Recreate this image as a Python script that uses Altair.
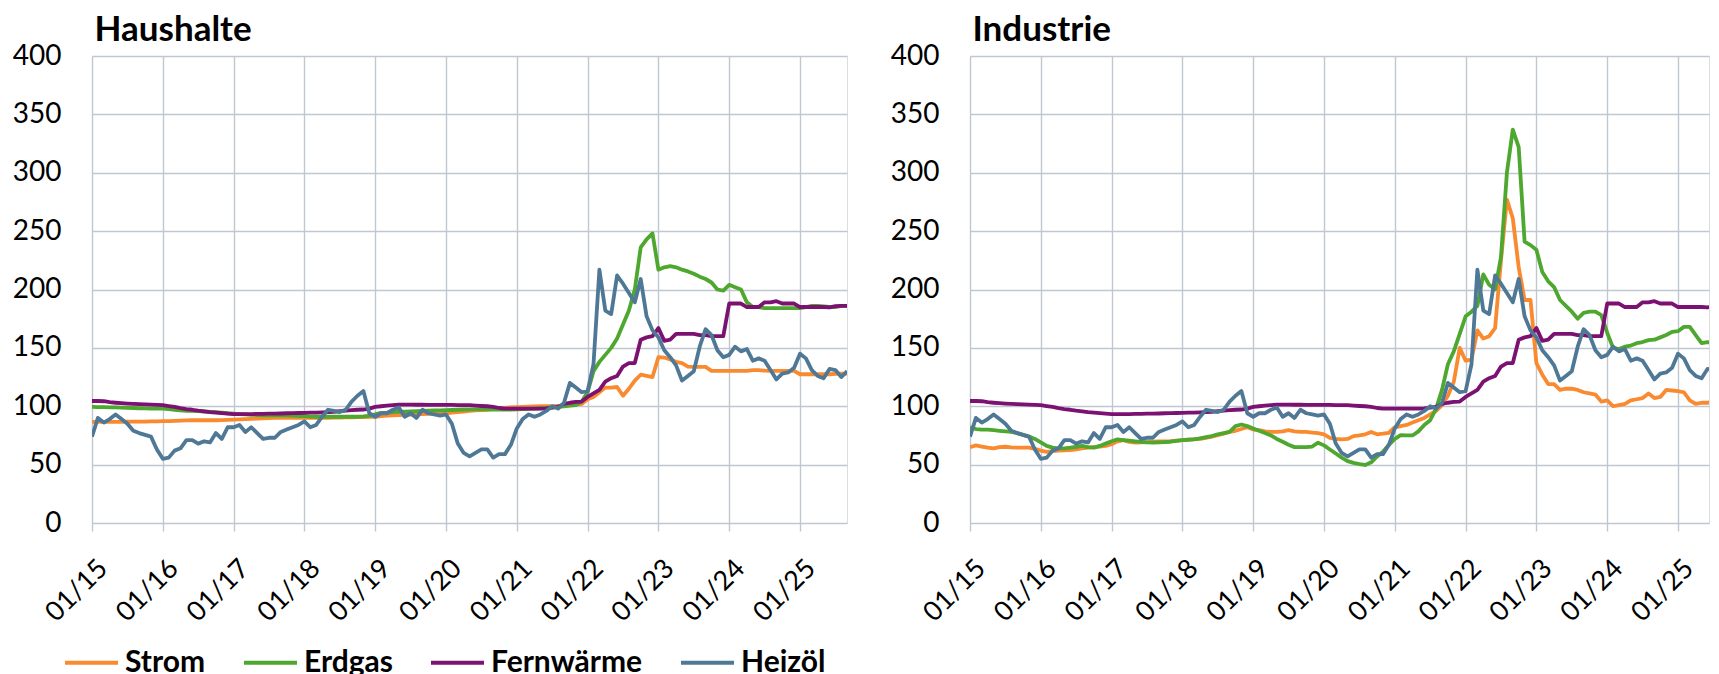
import altair as alt
import pandas as pd

SERIES = ["Strom", "Erdgas", "Fernwärme", "Heizöl"]
COLORS = ["#F98A2F", "#4EA72E", "#7B1272", "#4E7895"]
TICK_LABELS = ["01/15", "01/16", "01/17", "01/18", "01/19", "01/20",
               "01/21", "01/22", "01/23", "01/24", "01/25"]
PANEL_TITLES = ["Haushalte", "Industrie"]

# monthly index values, Jan 2015 .. Sep 2025
HH_STROM = [
    86.6, 86.6, 86.6, 86.6, 86.7, 86.7, 86.8, 86.8, 86.9, 86.9, 87.0, 87.0,
    87.2, 87.3, 87.5, 87.7, 87.9, 88.0, 88.0, 88.0, 88.0, 88.0, 88.2, 88.4,
    88.6, 88.8, 89.0, 89.2, 89.4, 89.6, 89.8, 90.0, 90.0, 90.0, 90.0, 90.0,
    90.0, 90.0, 90.0, 90.0, 90.0, 90.2, 90.3, 90.4, 90.5, 90.6, 90.8, 91.0,
    91.0, 91.5, 92.0, 92.2, 92.4, 92.6, 92.8, 93.0, 93.2, 93.4, 93.6, 93.8,
    94.0, 94.5, 95.0, 95.5, 96.0, 96.5, 96.8, 97.0, 97.5, 98.0, 98.5, 99.0,
    99.3, 99.5, 99.7, 99.9, 100.0, 100.0, 100.0, 100.2, 100.5, 101.0, 101.5, 102.0,
    106, 108, 112, 116, 116, 116.5, 109, 115, 122, 127, 126, 125,
    142, 141.7, 140, 138, 137, 134, 133.7, 133.7, 133.7, 130.3, 130.3, 130.3,
    130.3, 130.3, 130.3, 130.3, 130.9, 130.9, 130.5, 130.3, 130.3, 130.3, 130.3, 130.3,
    127.4, 127.4, 127.4, 127.4, 127.4, 127.4, 127.8, 128, 128,
]
HH_ERDGAS = [
    99.4, 99.3, 99.2, 99.0, 99.0, 98.8, 98.6, 98.5, 98.3, 98.2, 98.0, 98.0,
    98.0, 97.5, 97.0, 96.5, 96.0, 96.0, 95.8, 95.5, 95.2, 95.0, 94.5, 94.0,
    93.7, 93.3, 93.0, 92.7, 92.5, 92.3, 92.3, 92.3, 92.3, 92.2, 92.0, 91.8,
    91.5, 91.2, 91.0, 91.0, 91.0, 91.0, 91.0, 91.0, 91.0, 91.0, 91.3, 91.8,
    93.0, 94.3, 94.5, 95.0, 95.2, 95.3, 95.5, 95.7, 96.0, 96.2, 96.4, 96.5,
    96.6, 96.8, 97.0, 97.2, 97.4, 97.4, 97.4, 97.3, 97.2, 97.2, 97.2, 97.2,
    97.3, 97.5, 97.8, 98.0, 98.3, 98.6, 99.0, 99.4, 100.0, 100.5, 101.0, 104.0,
    112, 130, 138, 144, 150, 158, 170, 182, 200, 236, 243, 248,
    217, 219, 220, 219, 217, 215.5, 213.5, 211, 209, 206, 200, 199,
    204, 202, 200, 189, 185, 185, 184, 184, 184, 184, 184, 184,
    184, 185, 186, 186, 185.5, 185, 185, 186, 186,
]
FERNWAERME = [
    104.5, 104.5, 104.3, 103.5, 103.0, 102.6, 102.3, 102.0, 101.8, 101.6, 101.4, 101.2,
    100.9, 100.2, 99.4, 98.4, 97.6, 97.0, 96.2, 95.6, 95.0, 94.6, 94.1, 93.6,
    93.2, 93.2, 93.2, 93.3, 93.4, 93.5, 93.6, 93.7, 93.8, 94.0, 94.1, 94.2,
    94.3, 94.5, 94.6, 94.8, 95.0, 95.2, 95.8, 96.2, 96.6, 97.0, 97.2, 98.0,
    99.4, 100.0, 100.5, 101.0, 101.4, 101.4, 101.4, 101.3, 101.3, 101.2, 101.2, 101.2,
    101.2, 101.2, 101.0, 101.0, 100.9, 100.5, 100.2, 100.0, 99.4, 98.5, 98.0, 98.0,
    98.0, 98.0, 98.0, 98.0, 98.0, 98.2, 98.9, 99.5, 102.0, 103.0, 103.7, 104.0,
    108, 111, 114, 121, 124, 126, 134, 137, 137, 157, 159, 160,
    167, 156, 157, 162, 162, 162, 162, 161, 161, 160, 160, 160,
    188, 188, 188, 185, 185, 185, 189, 189, 190, 188, 188, 188,
    185, 185, 185, 185, 185, 184.6, 185.7, 186, 186,
]
HEIZOEL = [
    74, 90, 86, 89, 93, 89, 85, 79, 77, 75.5, 74, 63,
    55, 56, 62, 64, 71, 71, 68, 70, 69, 77, 72, 82,
    82, 84, 78, 82, 77, 72, 73, 73, 78, 80, 82, 84,
    87, 82, 84, 91, 97, 96, 95, 97, 104, 109, 113, 94,
    91, 94, 94, 97, 99, 91, 94, 90, 97, 94, 93, 92,
    93, 85, 68, 60, 57, 60, 63, 63, 56, 59, 59, 67,
    81, 89, 93, 91, 93, 96, 100, 98, 103, 120, 116, 112,
    113, 136, 217, 182, 179, 212, 205, 197, 189, 209, 177, 165,
    159, 148, 142, 135, 122, 126, 130, 151, 166, 161, 148, 142,
    144, 151, 147, 149, 139, 141, 139, 131, 123, 128, 129, 133,
    145, 141, 131, 126, 124, 132, 131, 125, 130,
]
IND_STROM = [
    65, 66.5, 65.5, 64.5, 64, 65, 65.3, 64.8, 64.5, 64.5, 64.5, 63.5,
    62, 61, 61.5, 62, 62.3, 62.5, 63, 64, 64.5, 65, 65.5, 66,
    67.5, 70, 71, 69.5, 68.8, 69, 69.3, 69.6, 69.8, 70, 70.2, 70.6,
    71, 71.5, 71.8, 72, 73, 74, 75.3, 76.5, 78, 79, 80.5, 82,
    80, 79.5, 78.5, 78, 78, 78.5, 79.5, 78.5, 78, 78, 77.5, 77,
    76, 73, 72, 71.6, 72, 74.4, 75, 76, 78, 76, 76.5, 77.3,
    82, 83, 84, 86, 88, 90, 93, 96, 101, 109, 121, 150,
    139, 140, 165, 158, 160, 167, 225, 277, 261, 219, 191, 191,
    137, 127, 119, 119, 114, 115, 115, 114, 112, 111, 110, 104,
    105, 100, 101, 102, 105, 106, 107, 111, 107, 108, 114, 113.5,
    113, 112, 105, 102, 103, 103, 103.7, 102.3, 102,
]
IND_ERDGAS = [
    82, 80.5, 80, 80, 79.5, 79, 78.5, 78, 77, 75.5, 74, 72,
    69, 66, 64.5, 64, 64, 64.5, 65.3, 66, 65, 64.5, 66, 68,
    70, 71.6, 71, 70.5, 70, 69.5, 69, 68.8, 69, 69.3, 69.6, 70.3,
    71, 71.3, 71.6, 72.5, 73.5, 74.5, 76, 77, 78, 83, 84.4, 83,
    81, 79, 77, 75, 72, 69.6, 67, 65, 65, 65, 65.5, 68.8,
    66.5, 63, 59.5, 56, 53, 51.5, 50.5, 49.7, 52, 57, 61, 67,
    72, 75.3, 75, 75, 78.5, 84, 88, 98, 114, 136, 147, 162,
    177, 181, 186, 213, 204, 200, 228, 300, 337, 322, 241, 238,
    234, 215, 207, 202, 191, 186, 181, 175, 180, 181, 181, 178,
    163, 150, 149, 151, 152, 154, 155, 156.6, 157, 159, 161, 163.7,
    164.3, 168, 168, 161, 154, 155, 154, 151, 150,
]

PANEL_DATA = {
    "Haushalte": [HH_STROM, HH_ERDGAS, FERNWAERME, HEIZOEL],
    "Industrie": [IND_STROM, IND_ERDGAS, FERNWAERME, HEIZOEL],
}

FONT = "Lato"
GRID = "#BFC7D1"
PX_PER_MONTH = 5.9


def panel_frame(panel):
    rows = []
    for s, vals in zip(SERIES, PANEL_DATA[panel]):
        for i, v in enumerate(vals):
            rows.append({"series": s, "m": i, "value": v})
    return pd.DataFrame(rows)


label_expr = "[" + ",".join("'" + t + "'" for t in TICK_LABELS) + "][round(datum.value/12)]"

legend = alt.Legend(
    orient="none", legendX=-29, legendY=578, direction="horizontal", columns=4,
    title=None, symbolType="stroke", symbolSize=2809, symbolStrokeWidth=4,
    labelFont=FONT, labelFontWeight="bold", labelFontSize=30, labelColor="black",
    columnPadding=30, labelOffset=5, labelLimit=400,
)


def panel_chart(panel, width):
    xmax = width / PX_PER_MONTH
    df = panel_frame(panel)
    base = alt.Chart(df).mark_line(strokeWidth=3.8, clip=True, strokeJoin="round").encode(
        x=alt.X("m:Q", scale=alt.Scale(domain=[0, xmax], nice=False, zero=False),
                axis=alt.Axis(values=list(range(0, 121, 12)), labelExpr=label_expr,
                              labelAngle=-45, labelAlign="right", labelBaseline="middle",
                              labelFont=FONT, labelFontSize=27, labelColor="black",
                              labelPadding=33, labelOffset=11, labelOverlap=False,
                              grid=True, gridColor=GRID, gridWidth=1.4,
                              ticks=True, tickColor=GRID, tickSize=8, tickWidth=1.4,
                              domain=False, title=None)),
        y=alt.Y("value:Q", scale=alt.Scale(domain=[0, 400], nice=False),
                axis=alt.Axis(values=list(range(0, 401, 50)),
                              labelFont=FONT, labelFontSize=28, labelColor="black",
                              labelPadding=31, ticks=False, tickSize=0,
                              grid=True, gridColor=GRID, gridWidth=1.4,
                              domain=False, title=None)),
        color=alt.Color("series:N", scale=alt.Scale(domain=SERIES, range=COLORS), legend=legend),
    )
    layers = [base.transform_filter(alt.datum.series == s) for s in SERIES]
    return alt.layer(*layers).properties(
        width=width, height=467,
        title=alt.TitleParams(panel, anchor="start", frame="group", font=FONT, fontSize=35,
                              fontWeight="bold", color="black", offset=-6, dx=2.5),
    )


left = panel_chart("Haushalte", 755)
right = panel_chart("Industrie", 739)

chart = alt.hconcat(left, right, spacing=123, bounds="flush").properties(
    padding={"left": 3, "top": 4, "right": 0, "bottom": 0}
).configure_view(stroke=None).configure(font=FONT)

chart.save("out.html", embed_options={"renderer": "svg", "actions": False})
